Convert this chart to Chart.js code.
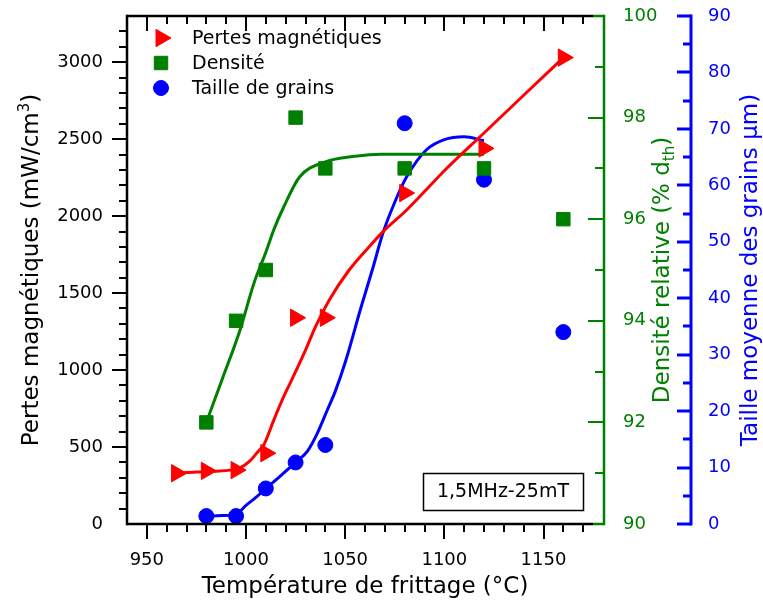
<!DOCTYPE html>
<html lang="fr">
<head>
  <meta charset="UTF-8">
  <title>Pertes magnétiques, densité et taille de grains</title>
  <script src="https://cdn.jsdelivr.net/npm/chart.js@4.4.1/dist/chart.umd.min.js"></script>
  <style>
    html, body { margin: 0; padding: 0; background: #fff; }
    .wrap { width: 763px; height: 605px; }
  </style>
</head>
<body>
  <div class="wrap"><canvas id="chart" width="763" height="605"></canvas></div>
  <script>
    // mesures
    const pertesTemp = [965, 980, 995, 1010, 1025, 1040, 1080, 1120, 1160];
    const pertes = [330, 345, 350, 460, 1340, 1340, 2150, 2440, 3030];
    const pertesFitTemp = [965, 975, 985, 992, 997, 1002, 1006, 1009, 1014, 1019, 1023, 1030, 1035, 1042, 1052, 1062, 1069, 1081, 1090, 1100, 1120, 1140, 1160];
    const pertesFit = [330, 338, 343, 350, 365, 410, 470, 515, 675, 827, 935, 1130, 1281, 1455, 1650, 1800, 1898, 2040, 2160, 2295, 2540, 2785, 3030];

    const densTemp = [980, 995, 1010, 1025, 1040, 1080, 1120, 1160];
    const dens = [92.0, 94.0, 95.0, 98.0, 97.0, 97.0, 97.0, 96.0];
    const densFitTemp = [980, 988, 997, 1004, 1010, 1014, 1019, 1027, 1040, 1055, 1068, 1090, 1120];
    const densFit = [92.0, 92.85, 93.82, 94.74, 95.35, 95.79, 96.24, 96.83, 97.13, 97.24, 97.28, 97.28, 97.28];

    const grainTemp = [980, 995, 1010, 1025, 1040, 1080, 1120, 1160];
    const grain = [1.4, 1.4, 6.3, 10.9, 14.0, 71.0, 61.0, 34.0];
    const grainFitTemp = [980, 988, 995, 1000, 1005, 1010, 1017, 1025, 1031, 1036, 1041, 1045, 1050, 1058, 1064, 1069, 1075, 1081, 1091, 1100, 1110, 1120];
    const grainFit = [1.4, 1.5, 1.7, 3.3, 4.7, 6.3, 8.4, 10.9, 12.9, 16.1, 20.2, 23.5, 28.6, 38.4, 45.4, 51.5, 57.0, 61.5, 66.3, 68.1, 68.6, 67.9];

    // graduations
    const xTicks = [950, 1000, 1050, 1100, 1150];
    const pertesTicks = [0, 500, 1000, 1500, 2000, 2500, 3000];
    const densTicks = [90, 92, 94, 96, 98, 100];
    const grainTicks = [0, 10, 20, 30, 40, 50, 60, 70, 80, 90];

    const legendLabels = ['Pertes magnétiques', 'Densité', 'Taille de grains'];
    const noteText = '1,5MHz-25mT';

    const FONT = '"DejaVu Sans", sans-serif';
    const RED = '#ff0000', GREEN = '#008000', BLUE = '#0000ff';

    const pts = (xs, ys) => xs.map((x, i) => ({ x: x, y: ys[i] }));
    const setTicks = list => s => { s.ticks = list.map(v => ({ value: v })); };
    const noPad = w => s => {
      if (s.isHorizontal()) s.height = w; else s.width = w;
      s.paddingTop = 0; s.paddingBottom = 0; s.paddingLeft = 0; s.paddingRight = 0;
    };

    // titre avec exposant / indice
    function richText(ctx, parts, cx, cy, angle, color) {
      ctx.save();
      ctx.translate(cx, cy);
      ctx.rotate(angle);
      ctx.fillStyle = color;
      ctx.textBaseline = 'alphabetic';
      ctx.textAlign = 'left';
      let total = 0;
      parts.forEach(p => {
        ctx.font = p.size + 'px ' + FONT;
        p.w = ctx.measureText(p.text).width;
        total += p.w;
      });
      let x = -total / 2;
      parts.forEach(p => {
        ctx.font = p.size + 'px ' + FONT;
        ctx.fillText(p.text, x, p.dy || 0);
        x += p.w;
      });
      ctx.restore();
    }

    function seg(ctx, x1, y1, x2, y2) {
      ctx.beginPath();
      ctx.moveTo(x1, y1);
      ctx.lineTo(x2, y2);
      ctx.stroke();
    }

    const axesPlugin = {
      id: 'axesPlugin',
      afterDraw(chart) {
        const ctx = chart.ctx;
        const { left, right, top, bottom } = chart.chartArea;
        const xs = chart.scales.x, yl = chart.scales.y, yd = chart.scales.yDens, yg = chart.scales.yGrain;

        ctx.save();
        ctx.lineCap = 'butt';

        // cadre
        ctx.strokeStyle = '#000';
        ctx.lineWidth = 2.5;
        seg(ctx, left, top, right - 10, top);
        seg(ctx, left, bottom, right - 10, bottom);
        seg(ctx, left, top - 1.25, left, bottom + 1.25);

        // ticks x (bas vers l'exterieur, haut vers l'interieur)
        ctx.lineWidth = 2;
        for (let v = 950; v <= 1170; v += 10) {
          const px = Math.round(xs.getPixelForValue(v));
          const len = v % 50 === 0 ? 15 : 8;
          seg(ctx, px, bottom, px, bottom + len);
          seg(ctx, px, top, px, top + len);
        }
        // ticks y gauche
        for (let v = 100; v <= 3200; v += 100) {
          const py = Math.round(yl.getPixelForValue(v));
          const len = v % 500 === 0 ? 15 : 8;
          seg(ctx, left, py, left - len, py);
        }

        // axe densité
        ctx.strokeStyle = GREEN;
        ctx.lineWidth = 2.5;
        seg(ctx, right + 1, top - 1.25, right + 1, bottom + 1.25);
        seg(ctx, right - 10, top, right + 1, top);
        seg(ctx, right - 10, bottom, right + 1, bottom);
        ctx.lineWidth = 2;
        for (let v = 91; v <= 99; v += 1) {
          const py = Math.round(yd.getPixelForValue(v));
          const len = v % 2 === 0 ? 15 : 8;
          seg(ctx, right, py, right - len, py);
        }

        // axe taille de grains
        const gx = yg.left - 1;
        ctx.strokeStyle = BLUE;
        ctx.lineWidth = 3;
        seg(ctx, gx, top - 1.5, gx, bottom + 1.5);
        for (let v = 0; v <= 90; v += 5) {
          const py = Math.round(yg.getPixelForValue(v));
          const len = v % 10 === 0 ? 14 : 8;
          seg(ctx, gx, py, gx - len, py);
        }

        // titres
        richText(ctx, [{ text: 'Température de frittage (°C)', size: 23 }], (left + right) / 2, 593, 0, '#000');
        richText(ctx, [
          { text: 'Pertes magnétiques (mW/cm', size: 23 },
          { text: '3', size: 15, dy: -9 },
          { text: ')', size: 23 }
        ], 38, (top + bottom) / 2, -Math.PI / 2, '#000');
        richText(ctx, [
          { text: 'Densité relative (% d', size: 23 },
          { text: 'th', size: 15, dy: 5 },
          { text: ')', size: 23 }
        ], 669, (top + bottom) / 2, -Math.PI / 2, GREEN);
        richText(ctx, [{ text: 'Taille moyenne des grains µm)', size: 23 }], 757, (top + bottom) / 2, -Math.PI / 2, BLUE);

        // legende
        const items = [0, 2, 4];
        ctx.font = '19px ' + FONT;
        ctx.textBaseline = 'middle';
        ctx.textAlign = 'left';
        items.forEach((di, k) => {
          const ds = chart.data.datasets[di];
          const y = top + 22 + k * 25;
          ctx.fillStyle = ds.backgroundColor;
          ctx.strokeStyle = ds.borderColor;
          ctx.lineWidth = 1;
          Chart.helpers.drawPoint(ctx, {
            pointStyle: ds.pointStyle,
            rotation: ds.pointRotation || 0,
            radius: ds.pointRadius,
            borderWidth: 1
          }, left + 34, y);
          ctx.fillStyle = '#000';
          ctx.fillText(legendLabels[k], left + 65, y + 1);
        });

        // encadre
        ctx.strokeStyle = '#000';
        ctx.lineWidth = 1.5;
        ctx.strokeRect(right - 180 + 0.5, bottom - 51 + 0.5, 160, 37);
        ctx.fillStyle = '#000';
        ctx.font = '19px ' + FONT;
        ctx.textAlign = 'center';
        ctx.textBaseline = 'middle';
        ctx.fillText(noteText, right - 100, bottom - 32);

        ctx.restore();
      }
    };

    Chart.defaults.font.family = FONT;

    const tickFont = { family: FONT, size: 18 };

    new Chart(document.getElementById('chart'), {
      type: 'scatter',
      data: {
        datasets: [
          {
            label: legendLabels[0],
            data: pts(pertesTemp, pertes),
            yAxisID: 'y',
            pointStyle: 'triangle',
            pointRotation: 90,
            pointRadius: 10,
            backgroundColor: RED,
            borderColor: RED,
            borderWidth: 1,
            showLine: false
          },
          {
            label: 'fit pertes',
            data: pts(pertesFitTemp, pertesFit),
            yAxisID: 'y',
            showLine: true,
            pointRadius: 0,
            borderColor: RED,
            borderWidth: 3,
            cubicInterpolationMode: 'monotone'
          },
          {
            label: legendLabels[1],
            data: pts(densTemp, dens),
            yAxisID: 'yDens',
            pointStyle: 'rect',
            pointRadius: 9.5,
            backgroundColor: GREEN,
            borderColor: GREEN,
            borderWidth: 1,
            showLine: false
          },
          {
            label: 'fit densite',
            data: pts(densFitTemp, densFit),
            yAxisID: 'yDens',
            showLine: true,
            pointRadius: 0,
            borderColor: GREEN,
            borderWidth: 3,
            cubicInterpolationMode: 'monotone'
          },
          {
            label: legendLabels[2],
            data: pts(grainTemp, grain),
            yAxisID: 'yGrain',
            pointStyle: 'circle',
            pointRadius: 7.5,
            backgroundColor: BLUE,
            borderColor: BLUE,
            borderWidth: 1,
            showLine: false
          },
          {
            label: 'fit grains',
            data: pts(grainFitTemp, grainFit),
            yAxisID: 'yGrain',
            showLine: true,
            pointRadius: 0,
            borderColor: BLUE,
            borderWidth: 3,
            cubicInterpolationMode: 'monotone'
          }
        ]
      },
      options: {
        responsive: false,
        devicePixelRatio: 1,
        animation: false,
        layout: { padding: { top: 16, left: 0, right: 0, bottom: 0 } },
        plugins: {
          legend: { display: false },
          tooltip: { enabled: false }
        },
        scales: {
          x: {
            type: 'linear',
            position: 'bottom',
            min: 940,
            max: 1180,
            grid: { display: false, drawTicks: false },
            border: { display: false },
            ticks: { padding: 26, color: '#000', font: tickFont, callback: v => String(v) },
            afterBuildTicks: setTicks(xTicks),
            afterFit: noPad(81)
          },
          y: {
            type: 'linear',
            position: 'left',
            min: 0,
            max: 3300,
            grid: { display: false, drawTicks: false },
            border: { display: false },
            ticks: { padding: 24, color: '#000', font: tickFont, callback: v => String(v) },
            afterBuildTicks: setTicks(pertesTicks),
            afterFit: noPad(127)
          },
          yDens: {
            type: 'linear',
            position: 'right',
            weight: 0,
            min: 90,
            max: 100,
            grid: { display: false, drawTicks: false },
            border: { display: false },
            ticks: { padding: 20, color: GREEN, font: tickFont, callback: v => String(v) },
            afterBuildTicks: setTicks(densTicks),
            afterFit: noPad(89)
          },
          yGrain: {
            type: 'linear',
            position: 'right',
            weight: 1,
            min: 0,
            max: 90,
            grid: { display: false, drawTicks: false },
            border: { display: false },
            ticks: { padding: 16, color: BLUE, font: tickFont, callback: v => String(v) },
            afterBuildTicks: setTicks(grainTicks),
            afterFit: noPad(71)
          }
        }
      },
      plugins: [axesPlugin]
    });
  </script>
</body>
</html>
